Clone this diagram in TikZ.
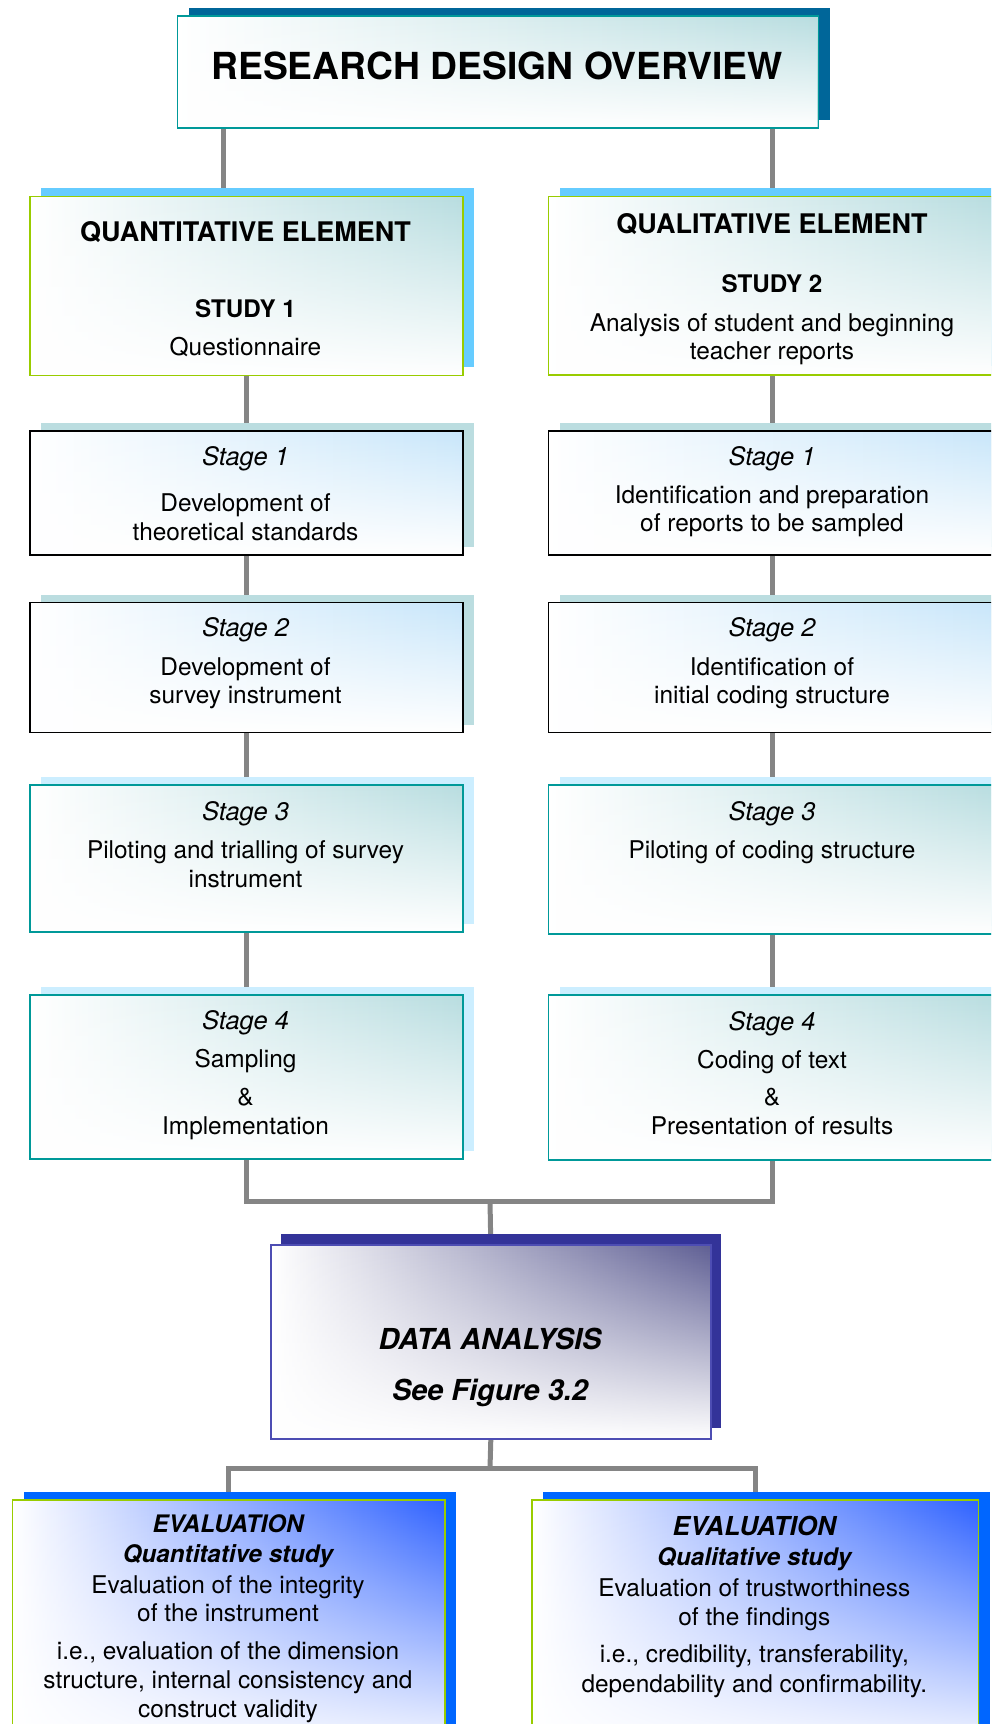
\documentclass[tikz,border=0pt]{standalone}
\usepackage{fontspec}
\setmainfont{TeX Gyre Heros}
\usetikzlibrary{shadows,fadings}
\pgfdeclarelayer{background}
\pgfsetlayers{background,main}
\definecolor{tealline}{HTML}{009999}
\definecolor{titleshadow}{HTML}{006699}
\definecolor{tealfill}{HTML}{B8DDE0}
\definecolor{limeline}{HTML}{99CC00}
\definecolor{skyshadow}{HTML}{66CCFF}
\definecolor{paleteal}{HTML}{BBDDE0}
\definecolor{paleblue}{HTML}{C8E6FA}
\definecolor{paleblueb}{HTML}{CCEEFF}
\definecolor{navyshadow}{HTML}{333399}
\definecolor{navyline}{HTML}{4D4DB3}
\definecolor{slatefill}{HTML}{5F5F94}
\definecolor{royalshadow}{HTML}{0066FF}
\definecolor{royalfill}{HTML}{2F62FF}
\definecolor{conngray}{HTML}{858585}
\tikzset{
  box/.style n args={5}{draw=#1, line width=1.6bp, left color=white, right color=#2,
    general shadow={fill=#3, shadow xshift=#4, shadow yshift=#5},
    path picture={\fill[white,path fading=north] (path picture bounding box.south west) rectangle (path picture bounding box.north east);},
    inner sep=0pt, anchor=north west},
  conn/.style={draw=conngray, line width=5bp, line join=miter},
  ln/.style={anchor=base, inner sep=0pt, font=\fontsize{24.5}{28}\selectfont},
  hd/.style={anchor=base, inner sep=0pt, font=\bfseries\fontsize{27.1}{30}\selectfont},
  sd/.style={anchor=base, inner sep=0pt, font=\bfseries\fontsize{24.3}{28}\selectfont},
  sg/.style={anchor=base, inner sep=0pt, font=\itshape\fontsize{25.5}{30}\selectfont},
  bi/.style={anchor=base, inner sep=0pt, font=\bfseries\itshape\fontsize{#1}{30}\selectfont},
}
\begin{document}
\begin{tikzpicture}[x=1bp,y=-1bp]
\useasboundingbox (0,0) rectangle (991,1724);
\clip (0,0) rectangle (991,1724);
% boxes
\node[box={tealline}{tealfill}{titleshadow}{11.5bp}{8bp}, minimum width=641bp, minimum height=112bp] (title) at (176.5,15) {};
\node[box={limeline}{tealfill}{skyshadow}{11bp}{8.5bp}, minimum width=433bp, minimum height=179bp] (quant) at (29,195.7) {};
\node[box={limeline}{tealfill}{skyshadow}{11bp}{8.5bp}, minimum width=448.6bp, minimum height=178.3bp] (qual) at (547.7,195.7) {};
\node[box={black}{paleblue}{paleteal}{11bp}{7.7bp}, minimum width=433bp, minimum height=124bp] (L1) at (29,430) {};
\node[box={black}{paleblue}{paleteal}{11bp}{7.7bp}, minimum width=448.6bp, minimum height=124bp] (R1) at (547.7,430) {};
\node[box={black}{paleblue}{paleteal}{11bp}{7.7bp}, minimum width=433bp, minimum height=129.8bp] (L2) at (29,601.7) {};
\node[box={black}{paleblue}{paleteal}{11bp}{7.7bp}, minimum width=448.6bp, minimum height=129.8bp] (R2) at (547.7,601.7) {};
\node[box={tealline}{tealfill}{paleblueb}{11bp}{8bp}, minimum width=433bp, minimum height=147bp] (L3) at (29,784) {};
\node[box={tealline}{tealfill}{paleblueb}{11bp}{8bp}, minimum width=448.6bp, minimum height=149.3bp] (R3) at (547.7,784) {};
\node[box={tealline}{tealfill}{paleblueb}{11bp}{8bp}, minimum width=433bp, minimum height=164bp] (L4) at (29,994.4) {};
\node[box={tealline}{tealfill}{paleblueb}{11bp}{8bp}, minimum width=448.6bp, minimum height=165bp] (R4) at (547.7,994.4) {};
\node[box={navyline}{slatefill}{navyshadow}{10.5bp}{10.8bp}, minimum width=440bp, minimum height=194bp] (data) at (270,1244.3) {};
\node[box={limeline}{royalfill}{royalshadow}{11bp}{8bp}, minimum width=432.6bp, minimum height=260bp] (evalL) at (11.7,1499) {};
\node[box={limeline}{royalfill}{royalshadow}{11bp}{8bp}, minimum width=446.7bp, minimum height=260bp] (evalR) at (531,1499) {};
% junctions
\coordinate (cT) at (223,0);
\coordinate (j1) at (490,1201);
\coordinate (j2) at (490,1468);
% connectors
\begin{pgfonlayer}{background}
\draw[conn] (title.south -| cT) -- (quant.north -| cT);
\draw[conn] (title.south -| qual.north) -- (qual.north);
\draw[conn] (quant.south) -- (L1.north);
\draw[conn] (L1.south) -- (L2.north);
\draw[conn] (L2.south) -- (L3.north);
\draw[conn] (L3.south) -- (L4.north);
\draw[conn] (qual.south) -- (R1.north);
\draw[conn] (R1.south) -- (R2.north);
\draw[conn] (R2.south) -- (R3.north);
\draw[conn] (R3.south) -- (R4.north);
\draw[conn] (L4.south) |- (j1) -| (R4.south);
\draw[conn] (j1) -- (data.north);
\draw[conn] (data.south) -- (j2);
\draw[conn] (evalL.north) |- (j2) -| (evalR.north);
\end{pgfonlayer}
% texts
\node[anchor=base, inner sep=0pt, font=\bfseries\fontsize{37.4}{40}\selectfont] (tt) at (497,79.3) {RESEARCH DESIGN OVERVIEW};
\node[hd] (q1) at (245.5,241.7) {QUANTITATIVE ELEMENT};
\node[sd] (q2) at (245.5,317.7) {STUDY 1};
\node[ln] (q3) at (245.5,355.5) {Questionnaire};
\node[hd] (r1) at (772,233.3) {QUALITATIVE ELEMENT};
\node[sd] (r2) at (772,292.3) {STUDY 2};
\node[ln] (r3) at (772,331.7) {Analysis of student and beginning};
\node[ln] (r4) at (772,359) {teacher reports};
\node[sg] (l1a) at (245.5,465) {Stage 1};
\node[ln] (l1b) at (245.5,511.7) {Development of};
\node[ln] (l1c) at (245.5,540.7) {theoretical standards};
\node[sg] (r1a) at (772,465) {Stage 1};
\node[ln] (r1b) at (772,503.3) {Identification and preparation};
\node[ln] (r1c) at (772,531.3) {of reports to be sampled};
\node[sg] (l2a) at (245.5,636.7) {Stage 2};
\node[ln] (l2b) at (245.5,675) {Development of};
\node[ln] (l2c) at (245.5,703) {survey instrument};
\node[sg] (r2a) at (772,636.7) {Stage 2};
\node[ln] (r2b) at (772,675) {Identification of};
\node[ln] (r2c) at (772,703) {initial coding structure};
\node[sg] (l3a) at (245.5,820) {Stage 3};
\node[ln] (l3b) at (245.5,858.3) {Piloting and trialling of survey};
\node[ln] (l3c) at (245.5,887.7) {instrument};
\node[sg] (r3a) at (772,820) {Stage 3};
\node[ln] (r3b) at (772,858.3) {Piloting of coding structure};
\node[sg] (l4a) at (245.5,1029.4) {Stage 4};
\node[ln] (l4b) at (245.5,1067.7) {Sampling};
\node[ln] (l4c) at (245.5,1105) {\&};
\node[ln] (l4d) at (245.5,1134.7) {Implementation};
\node[sg] (r4a) at (772,1030) {Stage 4};
\node[ln] (r4b) at (772,1068.5) {Coding of text};
\node[ln] (r4c) at (772,1105) {\&};
\node[ln] (r4d) at (772,1134.7) {Presentation of results};
\node[bi=29] (d1) at (490,1349) {DATA ANALYSIS};
\node[bi=29] (d2) at (490,1400.7) {See Figure 3.2};
\node[bi=24.2] (e1) at (228,1532.7) {EVALUATION};
\node[bi=24.3] (e2) at (228,1562.5) {Quantitative study};
\node[ln] (e3) at (228,1593.3) {Evaluation of the integrity};
\node[ln] (e4) at (228,1621.7) {of the instrument};
\node[ln] (e5) at (228,1659.3) {i.e., evaluation of the dimension};
\node[ln] (e6) at (228,1688.3) {structure, internal consistency and};
\node[ln] (e7) at (228,1717.3) {construct validity};
\node[bi=26.2] (f1) at (754.3,1535) {EVALUATION};
\node[bi=24.3] (f2) at (754.3,1565) {Qualitative study};
\node[ln] (f3) at (754.3,1596) {Evaluation of trustworthiness};
\node[ln] (f4) at (754.3,1625.7) {of the findings};
\node[ln] (f5) at (754.3,1662.3) {i.e., credibility, transferability,};
\node[ln] (f6) at (754.3,1692.3) {dependability and confirmability.};
\end{tikzpicture}
\end{document}
